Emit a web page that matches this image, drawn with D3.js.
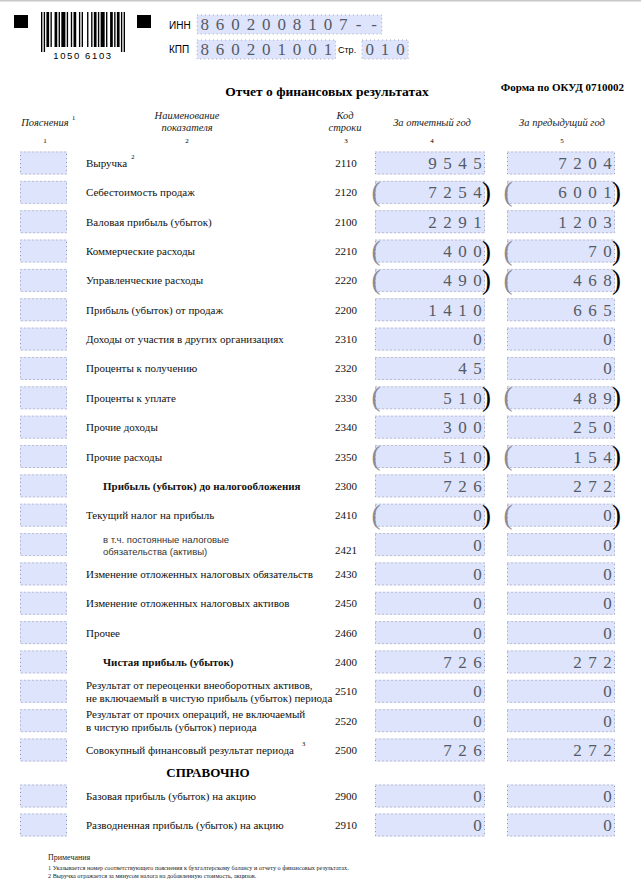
<!DOCTYPE html>
<html>
<head>
<meta charset="utf-8">
<script src="https://cdn.jsdelivr.net/npm/d3@7/dist/d3.min.js"></script>
<style>
html,body{margin:0;padding:0;background:#fff;}
svg{display:block;}
.serif{font-family:"Liberation Serif","Times New Roman",serif;}
.digit{font-family:"Liberation Serif","Times New Roman",serif;}
.sans{font-family:"Liberation Sans",Arial,sans-serif;}
</style>
</head>
<body>
<svg id="form" width="641" height="880"></svg>
<script>
/* data */
const inn="8602008107--";
const kpp="860201001";
const page="010";
const barcodeText="1050 6103";
const barWidths=[1,1,1,1,2,1,1,2,2,1,1,1,3,1,1,2,1,1,2,2,1,1,1,3,1,2,1,1,2,1,1,1,3,1,1,2,2,1,1,1,2,1,1,1,1];

const codes=["2110","2120","2100","2210","2220","2200","2310","2320","2330","2340","2350","2300","2410","2421","2430","2450","2460","2400","2510","2520","2500"];
const labels=[
  ["Выручка"],["Себестоимость продаж"],["Валовая прибыль (убыток)"],["Коммерческие расходы"],
  ["Управленческие расходы"],["Прибыль (убыток) от продаж"],["Доходы от участия в других организациях"],
  ["Проценты к получению"],["Проценты к уплате"],["Прочие доходы"],["Прочие расходы"],
  ["Прибыль (убыток) до налогообложения"],["Текущий налог на прибыль"],
  ["в т.ч. постоянные налоговые","обязательства (активы)"],
  ["Изменение отложенных налоговых обязательств"],["Изменение отложенных налоговых активов"],["Прочее"],
  ["Чистая прибыль (убыток)"],
  ["Результат от переоценки внеоборотных активов,","не включаемый в чистую прибыль (убыток) периода"],
  ["Результат от прочих операций, не включаемый","в чистую прибыль (убыток) периода"],
  ["Совокупный финансовый результат периода"]
];
const currentYear=[9545,7254,2291,400,490,1410,0,45,510,300,510,726,0,0,0,0,0,726,0,0,726];
const previousYear=[7204,6001,1203,70,468,665,0,0,489,250,154,272,0,0,0,0,0,272,0,0,272];
const bracketed=["2120","2210","2220","2330","2350","2410"];
const boldRows=["2300","2400"];
const noteMarks={"2110":"2","2500":"3"};

const refCodes=["2900","2910"];
const refLabels=["Базовая прибыль (убыток) на акцию","Разводненная прибыль (убыток) на акцию"];
const refCurrent=[0,0];
const refPrevious=[0,0];

const notes=["Примечания",
  "1 Указывается номер соответствующего пояснения к бухгалтерскому балансу и отчету о финансовых результатах.",
  "2 Выручка отражается за минусом налога на добавленную стоимость, акцизов."];

/* layout */
const svg=d3.select("#form");
const FILL="#dde4fc";
const y=d3.scalePoint().domain(codes).range([163,750]);
const yRef=d3.scalePoint().domain(refCodes).range([796,825]);
const cols=[{x0:375,x1:485},{x0:507,x1:615}];
const CELL=15, BOXH=23;

svg.append("line").attr("x1",0).attr("x2",641).attr("y1",0.5).attr("y2",0.5).attr("stroke","#c8c8c8").attr("stroke-width",2);

/* barcode */
svg.append("rect").attr("x",14).attr("y",15).attr("width",14).attr("height",13).attr("fill","#000");
svg.append("rect").attr("x",137).attr("y",15).attr("width",14).attr("height",13).attr("fill","#000");
const total=d3.sum(barWidths);
const bx=d3.scaleLinear().domain([0,total]).range([41,125]);
let acc=0;
const bars=[];
barWidths.forEach((w,i)=>{ if(i%2===0) bars.push({s:acc,w:w,guard:i<4||i>=barWidths.length-3}); acc+=w; });
svg.append("g").selectAll("rect").data(bars).join("rect")
  .attr("x",d=>bx(d.s)).attr("width",d=>bx(d.s+d.w)-bx(d.s))
  .attr("y",12).attr("height",d=>d.guard?40:35).attr("fill","#000");
svg.append("text").attr("class","sans").attr("x",83).attr("y",59).attr("text-anchor","middle")
  .attr("font-size",9.5).attr("letter-spacing",1.6).attr("fill","#000").text(barcodeText);

/* ИНН / КПП cells */
function cellRow(str,x0,yc){
  const g=svg.append("g");
  const w=str.length*15.4;
  g.append("rect").attr("x",x0).attr("y",yc-9).attr("width",w).attr("height",19).attr("fill",FILL)
    .attr("stroke","#a8a8b8").attr("stroke-dasharray","1,3").attr("stroke-width",1);
  const sx=d3.scaleLinear().domain([0,1]).range([x0,x0+15.4]);
  g.selectAll("text").data(str.split("")).join("text").attr("class","digit")
    .attr("x",(d,i)=>sx(i)+7.7).attr("y",yc+6).attr("text-anchor","middle")
    .attr("font-size",17).attr("fill","#555a66").text(d=>d);
}
svg.append("text").attr("class","sans").attr("x",169).attr("y",29).attr("font-size",10).text("ИНН");
svg.append("text").attr("class","sans").attr("x",169).attr("y",53).attr("font-size",10).text("КПП");
svg.append("text").attr("class","sans").attr("x",338).attr("y",53).attr("font-size",9).text("Стр.");
cellRow(inn,197,24);
cellRow(kpp,197,49);
cellRow(page,362,49);

/* titles */
svg.append("text").attr("class","serif").attr("x",327).attr("y",96).attr("text-anchor","middle")
  .attr("font-size",13.5).attr("font-weight","bold").text("Отчет о финансовых результатах");
svg.append("text").attr("class","serif").attr("x",624).attr("y",91).attr("text-anchor","end")
  .attr("font-size",11).attr("font-weight","bold").text("Форма по ОКУД 0710002");

/* column headers */
const hdr=svg.append("g").attr("class","serif").attr("font-style","italic").attr("font-size",10.5).attr("fill","#222").attr("text-anchor","middle");
hdr.append("text").attr("x",45).attr("y",126).text("Пояснения");
svg.append("text").attr("class","serif").attr("x",72).attr("y",120).attr("font-size",6.5).text("1");
hdr.append("text").attr("x",187).attr("y",119).text("Наименование");
hdr.append("text").attr("x",187).attr("y",131).text("показателя");
hdr.append("text").attr("x",345).attr("y",119).text("Код");
hdr.append("text").attr("x",345).attr("y",131).text("строки");
hdr.append("text").attr("x",432).attr("y",126).text("За отчетный год");
hdr.append("text").attr("x",562).attr("y",126).text("За предыдущий год");
svg.append("g").attr("class","serif").attr("font-size",7).attr("text-anchor","middle").selectAll("text")
  .data([[45,"1"],[187,"2"],[346,"3"],[432,"4"],[562,"5"]]).join("text")
  .attr("x",d=>d[0]).attr("y",143).text(d=>d[1]);

/* boxes */
function dottedBox(g,x0,x1,yc,cell){
  g.append("rect").attr("x",x0).attr("y",yc-BOXH/2).attr("width",x1-x0).attr("height",BOXH).attr("fill",FILL);
  g.append("rect").attr("x",x0+0.5).attr("y",yc-BOXH/2+0.5).attr("width",x1-x0-1).attr("height",BOXH-1)
    .attr("fill","none").attr("stroke","#9a9aa8").attr("stroke-dasharray","1,3").attr("stroke-width",1);
  const n=Math.floor((x1-x0)/cell);
  const xs=d3.range(1,n+1).map(k=>x1-k*cell).filter(v=>v>x0+3);
  g.selectAll("line.div").data(xs).join("line").attr("class","div")
    .attr("x1",d=>d).attr("x2",d=>d).attr("y1",yc-BOXH/2+4).attr("y2",yc+BOXH/2-2)
    .attr("stroke","#b4b4c4").attr("stroke-dasharray","1,6").attr("stroke-width",1);
}
function valueCell(g,col,yc,val,paren){
  dottedBox(g,col.x0,col.x1,yc,CELL);
  const s=String(val).split("");
  const dx=d3.scaleLinear().domain([0,1]).range([col.x1-7.5,col.x1-7.5-CELL]);
  g.append("g").selectAll("text").data(s).join("text").attr("class","digit")
    .attr("x",(d,i)=>dx(s.length-1-i)).attr("y",yc+6).attr("text-anchor","middle")
    .attr("font-size",17).attr("fill","#555a66").text(d=>d);
  if(paren){
    g.append("text").attr("class","serif").attr("x",col.x0+1).attr("y",yc+8.5).attr("text-anchor","middle")
      .attr("font-size",27).attr("fill","#8a8a98").text("(");
    g.append("text").attr("class","serif").attr("x",col.x1+1.5).attr("y",yc+8.5).attr("text-anchor","middle")
      .attr("font-size",27).attr("fill","#000").text(")");
  }
}
function row(yc,code,lines,cur,prev,paren,bold,mark){
  const g=svg.append("g");
  dottedBox(g,20,67,yc,15);
  const small=code==="2421";
  const indent=bold||small;
  const tx=indent?103:86;
  const t=g.append("text").attr("class",small?"sans":"serif").attr("font-size",small?9.5:11)
    .attr("font-weight",bold?"bold":"normal").attr("fill",small?"#333":"#111");
  const lh=small?12:13;
  lines.forEach((l,i)=>{
    t.append("tspan").attr("x",tx).attr("y",yc+4+(i-(lines.length-1)/2)*lh).text(l);
  });
  if(mark){
    const w=t.node().getComputedTextLength();
    g.append("text").attr("class","serif").attr("x",tx+w+(code==="2500"?8:4)).attr("y",yc-4).attr("font-size",6.5).text(mark);
  }
  g.append("text").attr("class","serif").attr("x",346).attr("y",yc+(small?9:4)).attr("text-anchor","middle")
    .attr("font-size",11).attr("fill","#111").text(code);
  valueCell(g,cols[0],yc,cur,paren);
  valueCell(g,cols[1],yc,prev,paren);
}

codes.forEach((c,i)=>row(y(c),c,labels[i],currentYear[i],previousYear[i],bracketed.includes(c),boldRows.includes(c),noteMarks[c]));

svg.append("text").attr("class","serif").attr("x",208).attr("y",777).attr("text-anchor","middle")
  .attr("font-size",13).attr("font-weight","bold").text("СПРАВОЧНО");
refCodes.forEach((c,i)=>row(yRef(c),c,[refLabels[i]],refCurrent[i],refPrevious[i],false,false,null));

/* notes */
svg.append("g").attr("class","serif").attr("fill","#222").selectAll("text").data(notes).join("text")
  .attr("x",48).attr("y",(d,i)=>[860,870,878][i]).attr("font-size",(d,i)=>i===0?8:6.2).text(d=>d);
</script>
</body>
</html>
